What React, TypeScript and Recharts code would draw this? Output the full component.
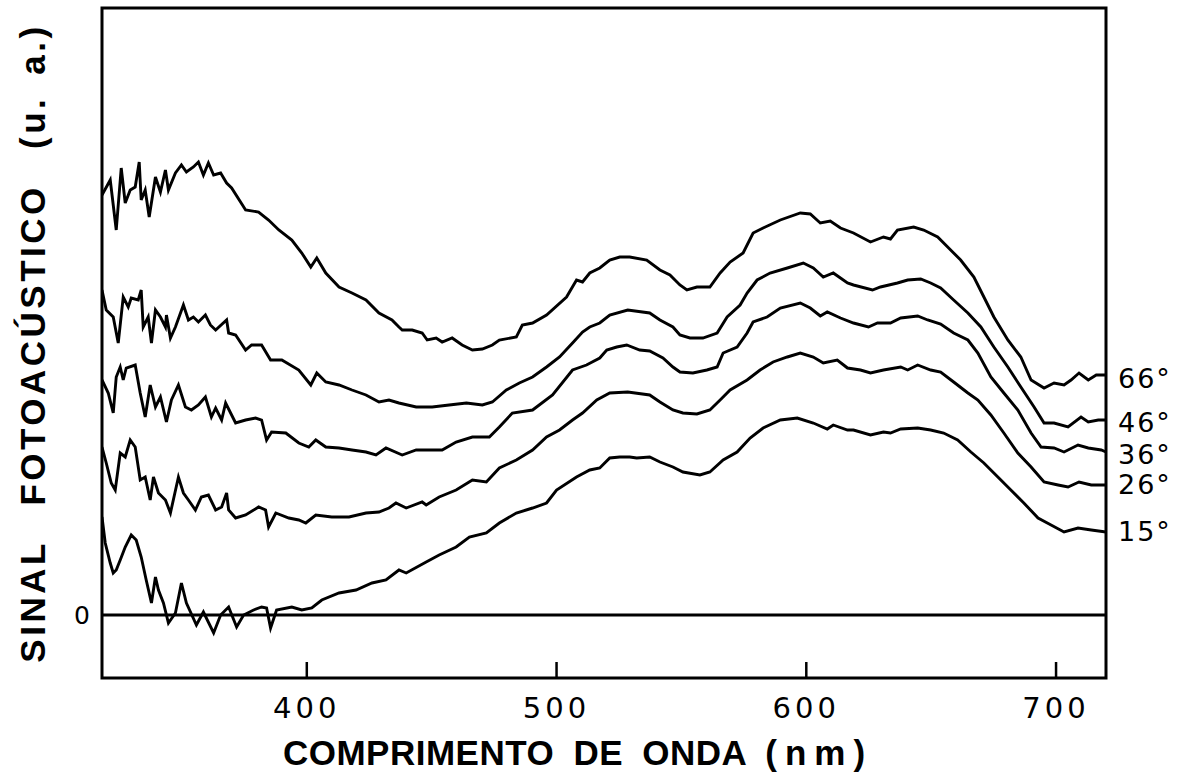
import { LineChart, Line, XAxis, YAxis, ReferenceLine, ReferenceArea, Label, LabelList } from "recharts";

// wavelength range (nm) and signal range (arbitrary units) of the plot frame
const WL_MIN = 318;
const WL_MAX = 720;
const SIG_MIN = -6.3;
const SIG_MAX = 60.7;

const xTicks = [400, 500, 600, 700];
const yTicks = [0];

// [wavelength nm, photoacoustic signal a.u.]
const curve66: [number, number][] = [
  [318, 42.0], [321.3, 43.5], [323.7, 38.5], [325.7, 44.7], [327.3, 41.2], [329.3, 42.5], [331.3, 42.8],
  [332.9, 45.3], [333.7, 41.5], [335.3, 42.5], [336.9, 39.8], [339.4, 43.8], [341.4, 42.3], [343.4, 44.5],
  [344.6, 42.5], [347.4, 44.2], [349.8, 45.0], [351.8, 44.3], [354.6, 44.8], [356.6, 45.3], [358.6, 44.0],
  [360.6, 45.2], [362.7, 44.0], [365.5, 44.2], [367.9, 43.2], [369.9, 42.7], [375.5, 40.5], [380.7, 40.3],
  [384.7, 39.5], [388.8, 38.5], [394.0, 37.5], [398.0, 36.2], [401.6, 34.8], [404.0, 35.7], [407.6, 34.2],
  [412.9, 32.8], [418.1, 32.2], [423.7, 31.5], [428.9, 30.2], [434.1, 29.5], [436.9, 28.8], [438.2, 28.5],
  [442.2, 28.5], [446.2, 28.2], [448.2, 27.5], [451.8, 27.7], [454.2, 27.3], [458.2, 27.7], [462.2, 27.0],
  [466.3, 26.5], [470.3, 26.6], [474.3, 27.0], [477.1, 27.5], [483.9, 27.8], [486.3, 29.0], [490.4, 29.2],
  [496.0, 30.0], [504.0, 31.8], [508.0, 33.5], [510.4, 33.3], [513.3, 34.2], [517.3, 34.7], [521.3, 35.5],
  [525.3, 35.8], [529.3, 35.8], [536.1, 35.5], [541.4, 34.5], [545.4, 34.0], [549.4, 33.0], [552.2, 32.5],
  [556.2, 32.8], [561.4, 32.8], [565.5, 34.2], [569.5, 35.3], [574.7, 36.2], [578.7, 38.2], [582.7, 38.7],
  [589.6, 39.5], [597.6, 40.2], [601.6, 40.1], [605.6, 39.2], [609.6, 39.4], [613.7, 38.7], [618.9, 38.2],
  [625.7, 37.3], [630.9, 37.8], [633.7, 37.6], [636.5, 38.5], [643.0, 38.8], [647.0, 38.5], [652.6, 37.8],
  [657.8, 36.5], [661.8, 35.5], [667.1, 33.8], [671.1, 31.8], [675.1, 29.8], [680.7, 27.5], [685.9, 25.8],
  [690.0, 23.5], [695.2, 22.7], [699.2, 23.2], [703.2, 23.0], [706.0, 23.5], [709.2, 24.2], [712.9, 23.5],
  [716.1, 24.0], [720, 24.0],
];

const curve46: [number, number][] = [
  [318, 32.5], [319.7, 30.5], [322.5, 29.8], [324.5, 27.2], [326.5, 31.8], [328.5, 30.8], [329.7, 31.7],
  [332.5, 31.5], [333.7, 32.5], [334.5, 28.8], [336.5, 29.8], [337.8, 27.2], [339.4, 30.5], [341.4, 29.8],
  [343.4, 28.8], [343.8, 30.0], [345.4, 27.7], [347.4, 28.8], [350.6, 31.0], [352.6, 29.5], [354.6, 29.8],
  [356.6, 29.3], [359.4, 30.0], [361.4, 29.0], [363.5, 28.5], [367.9, 29.5], [368.7, 28.2], [371.5, 28.0],
  [375.5, 26.5], [377.9, 27.0], [381.9, 27.0], [385.5, 25.5], [390.0, 25.5], [396.8, 24.5], [401.6, 23.0],
  [404.0, 24.2], [407.6, 23.3], [412.9, 23.0], [418.1, 22.5], [423.7, 22.0], [428.9, 21.3], [432.9, 21.5],
  [436.9, 21.2], [443.8, 20.8], [450.2, 20.8], [457.0, 21.0], [463.9, 21.2], [470.3, 21.0], [474.3, 21.3],
  [479.9, 22.5], [485.1, 23.2], [490.4, 23.8], [496.0, 24.8], [501.2, 25.8], [506.4, 27.2], [510.4, 28.3],
  [513.3, 28.8], [517.3, 29.2], [521.3, 30.0], [528.5, 30.5], [537.3, 30.2], [541.4, 29.5], [546.6, 28.8],
  [549.4, 28.0], [553.4, 27.7], [558.6, 27.7], [564.3, 28.2], [568.3, 29.8], [573.5, 31.0], [576.3, 32.2],
  [580.3, 33.5], [585.5, 34.2], [592.4, 34.7], [598.8, 35.2], [602.8, 34.7], [606.8, 33.8], [610.8, 34.2],
  [616.5, 33.2], [618.9, 33.0], [626.5, 32.5], [629.7, 32.8], [636.5, 33.2], [640.6, 33.5], [645.8, 33.6],
  [649.8, 33.2], [653.8, 32.7], [659.0, 31.5], [664.7, 30.2], [669.9, 28.8], [675.1, 26.8], [680.7, 24.8],
  [685.9, 22.8], [691.2, 20.8], [695.2, 19.2], [699.2, 19.2], [704.8, 18.8], [710.0, 19.8], [712.9, 19.3],
  [716.9, 19.5], [720, 19.5],
];

const curve36: [number, number][] = [
  [318, 23.5], [320.5, 22.2], [322.5, 20.2], [323.7, 23.8], [325.3, 24.8], [326.5, 23.5], [327.7, 24.7],
  [331.3, 25.0], [333.3, 22.2], [335.3, 19.8], [337.3, 23.0], [339.4, 20.8], [341.4, 21.8], [343.8, 19.3],
  [345.8, 21.5], [348.6, 23.0], [351.4, 20.8], [353.8, 20.5], [356.6, 21.0], [359.4, 21.8], [361.8, 19.8],
  [363.5, 20.7], [365.9, 19.5], [367.5, 21.2], [371.5, 19.2], [375.5, 19.5], [379.5, 19.7], [381.9, 19.5],
  [383.9, 17.5], [385.9, 18.3], [391.6, 18.2], [396.8, 17.2], [400.8, 16.8], [403.6, 17.5], [407.6, 16.8],
  [412.9, 16.7], [418.1, 16.5], [423.7, 16.3], [427.7, 16.0], [431.7, 16.7], [438.2, 16.0], [443.8, 16.5],
  [450.2, 16.5], [454.2, 16.5], [459.8, 17.3], [466.3, 17.8], [473.1, 17.8], [477.1, 18.8], [482.3, 20.2],
  [490.4, 20.5], [498.4, 22.0], [506.4, 24.5], [512.0, 25.0], [517.3, 25.7], [520.1, 26.5], [524.1, 26.8],
  [528.1, 27.0], [533.3, 26.5], [537.3, 26.4], [542.6, 25.7], [546.6, 24.8], [549.4, 24.3], [554.6, 24.2],
  [560.2, 24.5], [564.3, 24.8], [566.7, 26.2], [572.3, 26.8], [576.3, 28.2], [578.7, 29.3], [584.3, 29.8],
  [589.6, 30.7], [597.6, 31.2], [601.6, 30.7], [605.6, 29.9], [608.4, 30.3], [613.7, 29.7], [618.9, 29.2],
  [624.9, 28.8], [628.5, 29.2], [633.7, 29.2], [637.8, 29.7], [644.6, 29.9], [648.6, 29.5], [653.8, 29.1],
  [659.0, 28.2], [664.7, 27.5], [668.7, 26.2], [673.9, 23.8], [679.1, 22.2], [684.7, 20.5], [690.0, 18.2],
  [694.0, 16.8], [699.2, 16.7], [703.2, 16.3], [708.8, 17.0], [712.9, 16.7], [718.1, 16.5], [720, 16.3],
];

const curve26: [number, number][] = [
  [318, 16.8], [319.7, 15.2], [321.7, 13.2], [323.3, 12.5], [325.3, 16.2], [327.3, 15.8], [329.3, 17.5],
  [331.3, 16.8], [333.3, 13.5], [335.3, 13.8], [337.3, 11.5], [338.6, 13.8], [340.6, 12.2], [343.4, 11.5],
  [345.4, 10.2], [348.6, 13.8], [350.6, 12.2], [352.6, 11.5], [355.4, 10.5], [357.8, 11.8], [360.6, 12.0],
  [363.5, 10.5], [365.9, 10.8], [367.9, 12.2], [368.7, 10.5], [371.5, 9.7], [375.5, 10.0], [380.7, 10.8],
  [383.5, 10.5], [384.7, 8.8], [387.6, 10.2], [392.8, 9.7], [396.8, 9.5], [399.6, 9.2], [403.6, 10.0],
  [410.0, 9.8], [416.9, 9.8], [423.7, 10.2], [428.9, 10.3], [432.9, 10.7], [435.7, 11.2], [439.8, 10.7],
  [446.2, 11.3], [447.8, 11.0], [453.0, 11.8], [459.8, 12.5], [466.3, 13.5], [471.9, 13.3], [477.1, 14.7],
  [483.9, 15.5], [490.4, 16.5], [496.0, 17.8], [501.2, 18.5], [506.4, 19.5], [510.4, 20.2], [516.1, 21.5],
  [521.3, 22.2], [528.5, 22.3], [537.3, 22.0], [541.4, 21.3], [546.6, 20.5], [550.6, 20.2], [556.2, 20.1],
  [561.4, 20.5], [565.5, 21.5], [569.5, 22.5], [576.3, 23.5], [581.5, 24.5], [586.7, 25.3], [592.4, 25.8],
  [597.6, 26.2], [602.8, 25.8], [606.8, 25.2], [612.4, 25.5], [616.5, 24.7], [621.7, 24.5], [625.7, 24.2],
  [630.9, 24.5], [637.8, 24.8], [640.6, 24.5], [644.6, 25.0], [649.8, 24.5], [653.8, 24.3], [659.0, 23.3],
  [664.7, 22.2], [668.7, 21.5], [673.9, 20.0], [679.1, 18.2], [684.7, 16.2], [690.0, 14.8], [695.2, 13.3],
  [700.8, 13.0], [704.8, 12.8], [709.2, 13.3], [714.1, 13.0], [720, 13.0],
];

const curve15: [number, number][] = [
  [318, 9.8], [319.3, 7.2], [321.3, 5.2], [322.5, 4.2], [323.7, 4.5], [325.3, 5.5], [327.3, 6.8],
  [329.7, 8.0], [331.7, 7.5], [333.7, 5.8], [335.7, 3.5], [337.8, 1.2], [339.4, 3.8], [340.6, 2.5],
  [342.6, 1.2], [344.6, -0.8], [347.4, 0.2], [349.8, 3.2], [351.8, 1.2], [355.8, -1.0], [358.6, 0.3],
  [362.7, -1.8], [365.5, 0.0], [368.7, 0.8], [371.9, -1.2], [374.7, 0.0], [378.7, 0.5], [381.9, 0.8],
  [383.9, 0.7], [385.5, -1.3], [387.9, 0.5], [394.0, 0.8], [398.0, 0.5], [402.0, 0.7], [406.0, 1.5],
  [412.9, 2.2], [419.7, 2.5], [426.1, 3.2], [431.7, 3.5], [436.9, 4.5], [439.8, 4.2], [447.8, 5.3],
  [453.0, 6.0], [459.8, 6.8], [465.1, 7.8], [471.9, 8.2], [477.1, 9.2], [483.9, 10.2], [490.4, 10.7],
  [496.0, 11.2], [500.0, 12.5], [508.0, 13.8], [513.3, 14.5], [517.3, 14.7], [521.3, 15.7], [525.3, 15.8],
  [529.3, 15.8], [532.1, 15.7], [537.3, 15.8], [541.4, 15.3], [546.6, 14.8], [550.6, 14.3], [557.4, 14.0],
  [561.4, 14.3], [566.7, 15.5], [572.3, 16.3], [577.5, 17.7], [582.7, 18.7], [589.6, 19.5], [596.4, 19.7],
  [602.8, 19.2], [608.4, 18.6], [610.8, 19.0], [616.5, 18.5], [618.9, 18.5], [625.7, 18.0], [630.9, 18.3],
  [633.7, 18.2], [637.8, 18.6], [644.6, 18.7], [649.8, 18.5], [655.0, 18.2], [660.6, 17.5], [665.9, 16.3],
  [671.1, 15.2], [676.7, 13.8], [681.9, 12.5], [687.1, 11.2], [692.8, 9.7], [698.0, 9.0], [703.2, 8.3],
  [708.8, 8.7], [714.1, 8.5], [720, 8.3],
];

const series = [
  { name: "66°", points: curve66, nudge: 3 },
  { name: "46°", points: curve46, nudge: 2 },
  { name: "36°", points: curve36, nudge: 2 },
  { name: "26°", points: curve26, nudge: -1 },
  { name: "15°", points: curve15, nudge: -1 },
];

const LETTER_FONT = "'Liberation Sans', Arial, sans-serif";
const DIGIT_FONT = "'DejaVu Sans', sans-serif";

export default function App() {
  return (
    <div style={{ position: "absolute", left: 0, top: 0, width: 1181, height: 774, background: "#fff" }}>
      <LineChart width={1181} height={774} margin={{ top: 8, right: 75, bottom: 0, left: 0 }}>
        <XAxis
          type="number"
          dataKey="w"
          domain={[WL_MIN, WL_MAX]}
          ticks={xTicks}
          interval={0}
          allowDataOverflow
          axisLine={false}
          tickSize={-16}
          tickMargin={35}
          tickLine={{ stroke: "#000", strokeWidth: 2.5 }}
          tick={{ fill: "#000", fontSize: 29, fontFamily: DIGIT_FONT, letterSpacing: 4 }}
          height={96}
        >
          <Label
            content={({ viewBox }: any) => (
              <text
                x={viewBox.x + viewBox.width / 2 - 26}
                y={viewBox.y + 87}
                textAnchor="middle"
                fill="#000"
                fontSize={35}
                fontWeight="bold"
                fontFamily={LETTER_FONT}
                style={{ letterSpacing: 0.5, wordSpacing: 9 }}
              >
                COMPRIMENTO DE ONDA <tspan style={{ letterSpacing: 8 }}>(nm)</tspan>
              </text>
            )}
          />
        </XAxis>
        <YAxis
          type="number"
          domain={[SIG_MIN, SIG_MAX]}
          ticks={yTicks}
          allowDataOverflow
          axisLine={false}
          tickLine={false}
          tickSize={0}
          tickMargin={12}
          width={102}
          tick={{ fill: "#000", fontSize: 25, fontFamily: DIGIT_FONT }}
        >
          <Label
            content={({ viewBox }: any) => {
              const x = viewBox.x + 45;
              const y = viewBox.y + viewBox.height / 2;
              return (
                <text
                  x={x}
                  y={y}
                  transform={`rotate(-90, ${x}, ${y})`}
                  textAnchor="middle"
                  fill="#000"
                  fontSize={35}
                  fontWeight="bold"
                  fontFamily={LETTER_FONT}
                  style={{ letterSpacing: 3.5, wordSpacing: 22 }}
                >
                  {"SINAL FOTOACÚSTICO (u.\u2002a.)"}
                </text>
              );
            }}
          />
        </YAxis>
        <ReferenceArea
          x1={WL_MIN}
          x2={WL_MAX}
          y1={SIG_MIN}
          y2={SIG_MAX}
          fill="none"
          fillOpacity={0}
          stroke="#000"
          strokeWidth={3}
          ifOverflow="visible"
        />
        <ReferenceLine y={0} stroke="#000" strokeWidth={3} ifOverflow="visible" />
        {series.map((s) => {
          const rows = s.points.map(([w, v]) => ({ w, v }));
          const last = rows.length - 1;
          return (
            <Line
              key={s.name}
              data={rows}
              dataKey="v"
              type="linear"
              stroke="#000"
              strokeWidth={2.9}
              dot={false}
              activeDot={false}
              isAnimationActive={false}
            >
              <LabelList
                dataKey="v"
                content={(p: any) =>
                  p.index === last ? (
                    <text
                      x={p.x + 12}
                      y={p.y + s.nudge}
                      dy="0.36em"
                      fill="#000"
                      fontSize={27}
                      fontFamily={DIGIT_FONT}
                      style={{ letterSpacing: 2 }}
                    >
                      {s.name}
                    </text>
                  ) : null
                }
              />
            </Line>
          );
        })}
      </LineChart>
    </div>
  );
}
